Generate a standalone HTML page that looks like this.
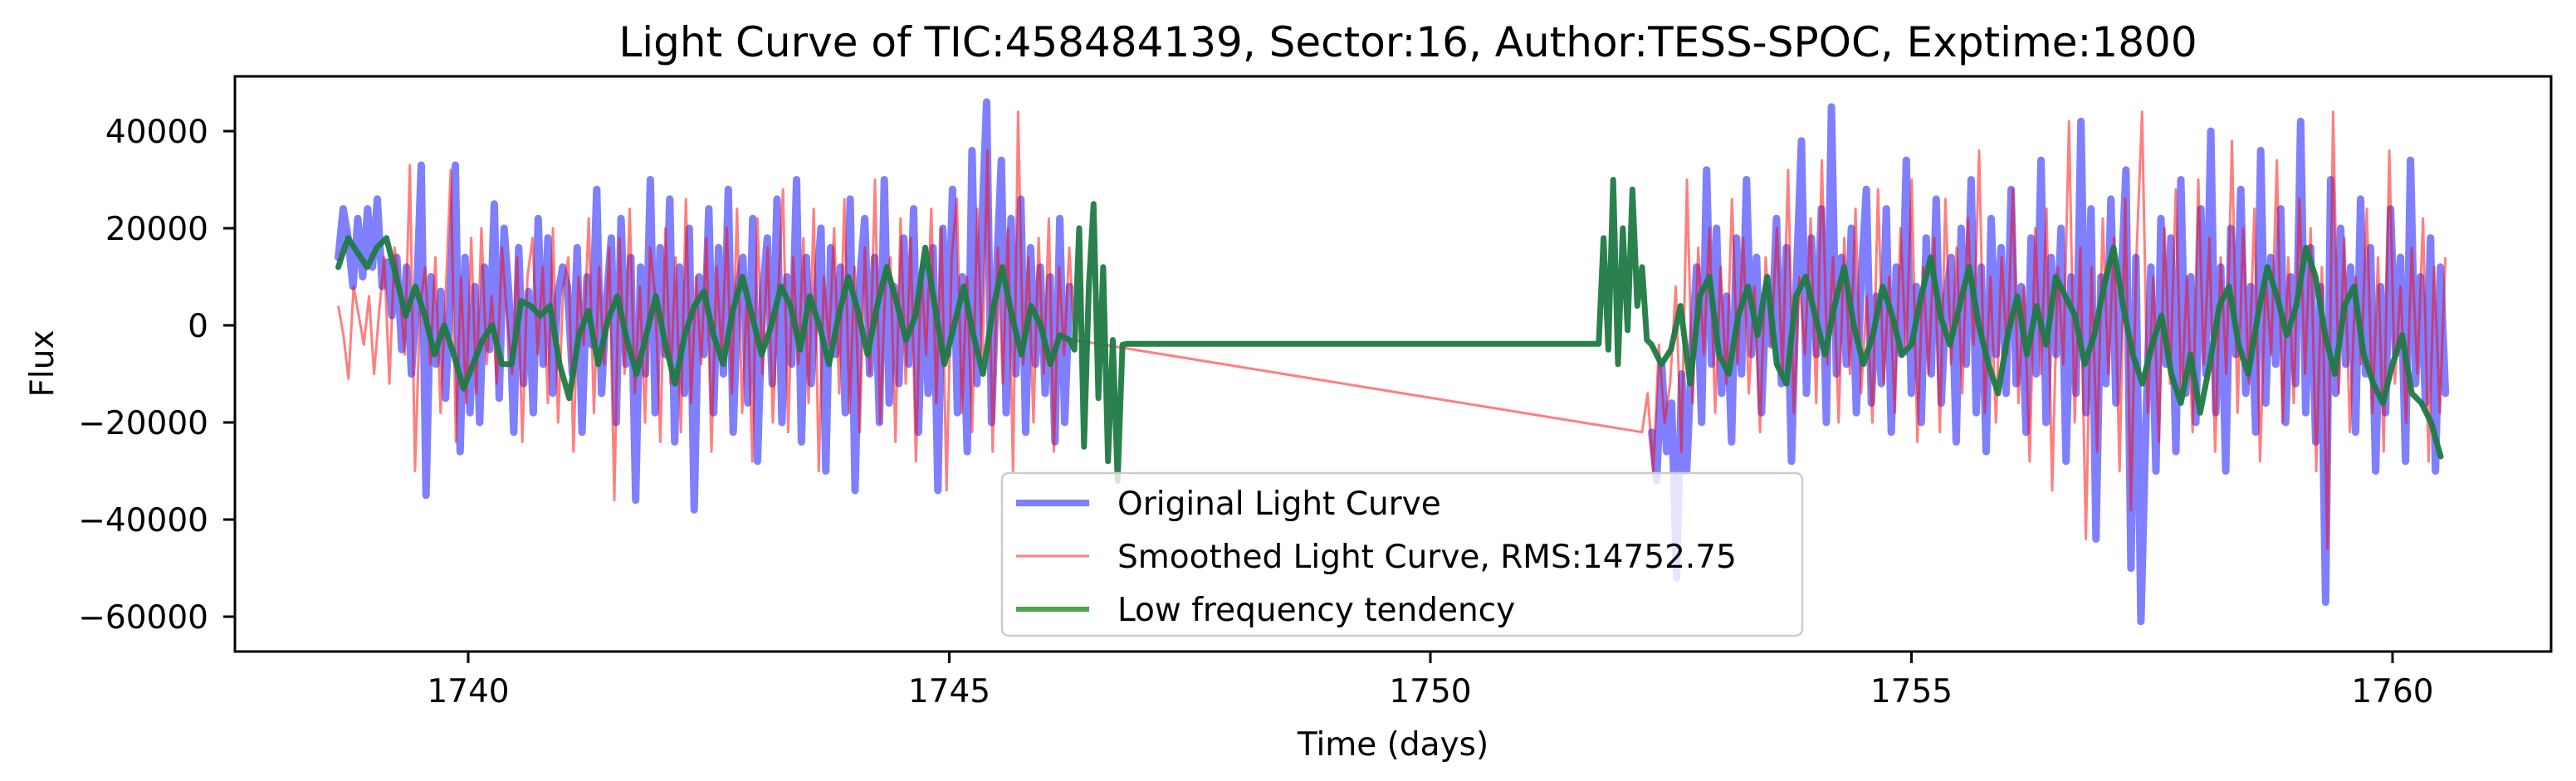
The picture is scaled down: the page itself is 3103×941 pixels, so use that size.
<!DOCTYPE html>
<html><head><meta charset="utf-8">
<style>
html,body{margin:0;padding:0;background:#fff;}
svg{display:block;font-family:"DejaVu Sans","Liberation Sans",sans-serif;}
</style></head>
<body>
<svg id="chart" width="3103" height="941" viewBox="0 0 3103 941" xmlns="http://www.w3.org/2000/svg">
<rect width="3103" height="941" fill="#fff"/>
<text x="1696" y="68" font-size="50" text-anchor="middle">Light Curve of TIC:458484139, Sector:16, Author:TESS-SPOC, Exptime:1800</text>
<defs><clipPath id="plotclip"><rect x="283" y="92" width="2790" height="693"/></clipPath></defs>
<g id="series" clip-path="url(#plotclip)"></g>
<g id="axes"></g>
<g id="legend"></g>
</svg>
<script>
// ---- data (flux in thousands) ----
const xTicks = [1740, 1745, 1750, 1755, 1760];
const yTicks = [40000, 20000, 0, -20000, -40000, -60000];
const yTickLabels = ["40000", "20000", "0", "\u221220000", "\u221240000", "\u221260000"];

const blueA_start = 1738.65, blueA_end = 1746.25;
const blueA = [14,24,18,8,22,10,24,12,26,8,13,2,14,-5,12,-10,4,33,-35,10,-8,7,-15,6,33,-26,14,-18,8,-20,12,-5,25,-15,20,6,-22,16,-12,7,-18,22,-8,18,-14,6,12,8,-10,16,-22,10,-4,28,-14,5,18,-20,22,-8,14,-36,12,-10,30,-18,16,-6,26,-24,12,-14,20,-38,10,-6,24,-18,16,-10,28,-22,8,14,-16,22,-28,6,18,-12,26,-20,10,-8,30,-24,14,-12,6,20,-30,16,-6,12,-18,26,-34,10,22,-10,14,-20,30,-16,8,-12,18,-8,24,-22,12,-14,16,-34,20,-6,28,-18,10,-26,36,-12,20,46,-20,10,34,-18,22,-10,26,-22,16,-8,12,-14,10,-24,22,-20,8];
const redA_start = 1738.65, redA_end = 1746.3;
const redA = [4,-2,-11,8,2,-4,6,-10,3,14,-12,16,8,-6,33,-30,4,12,-8,14,-18,6,32,-24,10,-16,18,-14,20,-8,6,-12,16,2,-10,14,-24,10,18,-6,12,-16,20,-20,8,14,-26,10,-4,22,-18,12,-8,16,-36,18,-10,24,-14,8,-20,16,6,-24,20,-12,14,-22,26,-16,10,-8,18,-26,12,-6,20,-14,24,-18,8,-28,22,-10,16,-20,6,28,-22,14,-8,18,-16,24,-30,10,-4,20,-14,26,-18,12,-22,16,-10,30,-20,8,14,-24,22,-12,18,-28,12,-6,24,-16,20,-34,14,26,-18,10,-22,24,-8,36,-26,16,-12,20,-30,44,-8,14,-20,18,-10,22,-26,12,-6,16,-3];
const greenA_start = 1738.65, greenA_end = 1746.25;
const greenA = [12,18,15,12,16,18,10,2,8,2,-6,0,-6,-13,-8,-3,0,-8,-8,5,4,2,4,-8,-15,-2,3,-8,1,6,-3,-10,-2,6,-4,-12,-2,4,7,-2,-8,3,10,2,-6,0,8,4,-5,6,0,-8,2,10,3,-6,4,12,5,-3,2,16,4,-8,0,8,-2,-10,3,12,2,-6,4,0,-8,-2,-3];
const greenGapT = [1746.3,1746.35,1746.4,1746.45,1746.5,1746.55,1746.6,1746.65,1746.7,1746.75,1746.8,1746.85,1751.75,1751.8,1751.85,1751.9,1751.95,1752.0,1752.05,1752.1,1752.15,1752.2,1752.25];
const greenGapV = [-5,20,-25,8,25,-15,12,-28,-3,-32,-4,-3.8,-3.8,18,-5,30,-8,20,-1,28,4,12,-3];
const blueB_start = 1752.3, blueB_end = 1760.55;
const blueB = [-22,-32,-8,-26,-16,-52,-10,-30,-6,12,-20,32,-8,20,-14,6,-24,18,-10,30,-6,14,-18,8,-4,22,-12,16,-28,10,38,-14,18,-6,24,-20,45,-10,14,-8,20,-18,10,28,-16,6,-12,24,-22,12,-6,34,-14,8,-20,18,-10,26,-16,6,14,-24,20,-8,30,-18,12,-26,22,-6,16,-14,28,-12,8,-22,18,-10,34,-20,14,-6,20,-28,10,-14,42,-18,24,-44,10,-12,26,-16,8,32,-50,14,-61,-20,12,-30,22,-8,18,-26,30,-14,10,-20,24,-10,40,-18,12,-30,20,-6,28,-14,8,-22,36,-16,14,-8,24,-20,10,-12,42,-18,16,-24,8,-57,30,-14,20,-8,12,-22,26,-10,16,-30,8,-18,24,-6,14,-28,34,-12,10,-16,18,-30,12,-14];
const redB_start = 1752.2, redB_end = 1760.55;
const redB = [-22,-14,-30,-4,-20,-12,8,-26,30,-16,16,-6,20,-18,12,-12,26,-8,18,-14,8,-22,14,-4,20,-10,32,-18,10,-6,22,-16,34,-8,14,-20,18,-10,24,-14,6,-20,28,-12,10,-18,20,-6,30,-24,12,-10,18,-22,26,-8,16,-14,22,-4,36,-18,10,-20,14,-6,28,-16,8,-28,20,-10,24,-34,12,-8,42,-20,16,-44,12,-26,22,-10,18,-30,26,-38,14,44,-18,10,-24,20,-12,28,-16,10,-22,30,-8,18,-26,14,-10,38,-18,20,-12,24,-28,10,-6,34,-20,14,-16,26,-10,20,-30,12,-46,44,-14,18,-22,10,-8,24,-18,14,-26,36,-12,8,-20,16,-10,22,-28,12,-18,14];
const greenB_start = 1752.3, greenB_end = 1760.5;
const greenB = [-4,-8,-5,4,-12,6,10,-6,-10,2,8,-2,10,-8,-12,6,10,2,-6,4,12,0,-8,-2,8,2,-6,-4,6,14,2,-4,4,12,0,-8,-14,-2,6,-6,4,-4,10,6,2,-8,-2,8,16,4,-6,-12,-4,2,-10,-16,-6,-18,-8,4,8,-4,-10,2,12,6,-2,4,16,10,-2,-10,4,8,-6,-12,-16,-8,-2,-14,-16,-20,-27];

// ---- axis functions ----
const X0 = 564, PXPERDAY = 115.9, Y0 = 392, PXPERK = 117/20;
function xs(t){ return X0 + (t - 1740) * PXPERDAY; }
function ys(vk){ return Y0 - vk * PXPERK; }

const NS = "http://www.w3.org/2000/svg";
function mk(tag, attrs, parent){ const e = document.createElementNS(NS, tag); for (const k in attrs) e.setAttribute(k, attrs[k]); parent.appendChild(e); return e; }
function evenPts(start, end, vals){ const n = vals.length; return vals.map((v,i)=>[start + (end-start)*i/(n-1), v]); }
function ptsStr(p){ return p.map(q => xs(q[0]).toFixed(1)+","+ys(q[1]).toFixed(1)).join(" "); }

const series = document.getElementById("series");
// blue original (two segments, no line across the gap)
const blA = mk("polyline", {points: ptsStr(evenPts(blueA_start, blueA_end, blueA)), fill:"none", stroke:"#0000ff", "stroke-opacity":"0.5", "stroke-width":"9", "stroke-linejoin":"round", "stroke-linecap":"round"}, series);


const blB = mk("polyline", {points: ptsStr(evenPts(blueB_start, blueB_end, blueB)), fill:"none", stroke:"#0000ff", "stroke-opacity":"0.5", "stroke-width":"9", "stroke-linejoin":"round", "stroke-linecap":"round"}, series);


// red smoothed
const redAll = evenPts(redA_start, redA_end, redA).concat(evenPts(redB_start, redB_end, redB));
const rl = mk("polyline", {points: ptsStr(redAll), fill:"none", stroke:"#ff0000", "stroke-opacity":"0.5", "stroke-width":"3", "stroke-linejoin":"round"}, series);


// green trend
const gap = greenGapT.map((t,i)=>[t, greenGapV[i]]);
const greenAll = evenPts(greenA_start, greenA_end, greenA).concat(gap, evenPts(greenB_start, greenB_end, greenB));
const gl = mk("polyline", {points: ptsStr(greenAll), fill:"none", stroke:"#1f7a45", "stroke-opacity":"0.95", "stroke-width":"7", "stroke-linejoin":"round", "stroke-linecap":"round"}, series);



// ---- axes ----
const axes = document.getElementById("axes");
const frame = mk("rect", {x:283, y:92, width:2790, height:693, fill:"none", stroke:"#000", "stroke-width":"3"}, axes);


xTicks.forEach(t => {
  const x = xs(t);
  const tk = mk("line", {x1:x, y1:785, x2:x, y2:799, stroke:"#000", "stroke-width":"3"}, axes);
  
  
  const lb = mk("text", {x:x, y:846, "font-size":"39", "text-anchor":"middle"}, axes);
  lb.textContent = String(t);
  
  
});
yTicks.forEach((v,i) => {
  const y = ys(v/1000);
  const tk = mk("line", {x1:269, y1:y, x2:283, y2:y, stroke:"#000", "stroke-width":"3"}, axes);
  
  
  const lb = mk("text", {x:251, y:y+14, "font-size":"39", "text-anchor":"end"}, axes);
  lb.textContent = yTickLabels[i];
  
  
});
const xt = mk("text", {x:1678, y:910, "font-size":"39", "text-anchor":"middle"}, axes);
xt.textContent = "Time (days)";


const yt = mk("text", {x:0, y:0, "font-size":"39", "text-anchor":"middle", transform:"translate(64,438) rotate(-90)"}, axes);
yt.textContent = "Flux";



// ---- legend ----
const lg = document.getElementById("legend");
const box = mk("rect", {x:1207, y:570, width:964, height:196, rx:8, fill:"#fff", "fill-opacity":"0.8", stroke:"#ccc", "stroke-width":"2.5"}, lg);


const entries = [
  ["Original Light Curve", "#0000ff", 0.5, 8, "legend-entry-original"],
  ["Smoothed Light Curve, RMS:14752.75", "#ff0000", 0.5, 3, "legend-entry-smoothed"],
  ["Low frequency tendency", "#008000", 0.7, 6, "legend-entry-trend"]
];
entries.forEach((e,i) => {
  const y = 606 + i*64;
  const ln = mk("line", {x1:1224, y1:y, x2:1312, y2:y, stroke:e[1], "stroke-opacity":e[2], "stroke-width":e[3]}, lg);
  
  
  const tx = mk("text", {x:1346, y:y+14, "font-size":"39"}, lg);
  tx.textContent = e[0];
  
  
});
</script>
</body></html>
